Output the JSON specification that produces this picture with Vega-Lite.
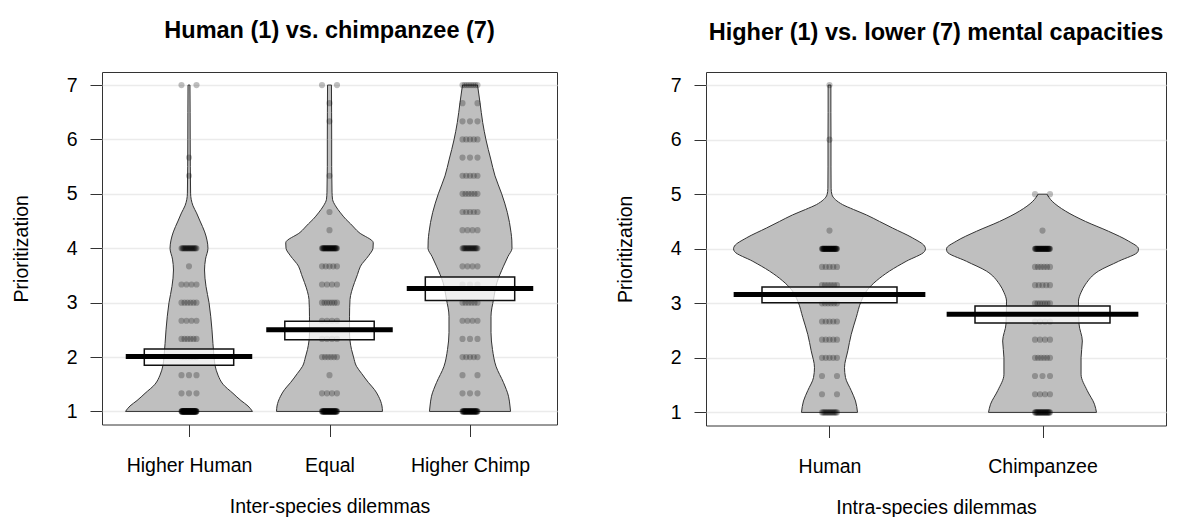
{
  "$schema": "https://vega.github.io/schema/vega-lite/v6.json",
  "padding": {"left": 10, "top": 18, "right": 0, "bottom": 0},
  "spacing": 56,
  "datasets": {
    "sumL": [
      {"g": "HH", "mean": 2.01, "lo": 1.85, "hi": 2.15},
      {"g": "EQ", "mean": 2.5, "lo": 2.32, "hi": 2.66},
      {"g": "HC", "mean": 3.26, "lo": 3.04, "hi": 3.47}
    ],
    "sumR": [
      {"g": "HU", "mean": 3.16, "lo": 3.01, "hi": 3.3},
      {"g": "CH", "mean": 2.8, "lo": 2.64, "hi": 2.95}
    ],
    "violL": [
      {"g":"HH","v":1,"d":0.904},{"g":"HH","v":1.1,"d":0.84},{"g":"HH","v":1.2,"d":0.74},{"g":"HH","v":1.333,"d":0.626},{"g":"HH","v":1.5,"d":0.484},{"g":"HH","v":1.667,"d":0.413},{"g":"HH","v":1.85,"d":0.37},{"g":"HH","v":2,"d":0.356},{"g":"HH","v":2.5,"d":0.327},{"g":"HH","v":3,"d":0.285},{"g":"HH","v":3.3,"d":0.242},{"g":"HH","v":3.6,"d":0.221},{"g":"HH","v":3.8,"d":0.235},{"g":"HH","v":4,"d":0.27},{"g":"HH","v":4.15,"d":0.256},{"g":"HH","v":4.3,"d":0.223},{"g":"HH","v":4.5,"d":0.157},{"g":"HH","v":4.65,"d":0.107},{"g":"HH","v":4.78,"d":0.057},{"g":"HH","v":4.9,"d":0.031},{"g":"HH","v":5,"d":0.023},{"g":"HH","v":5.5,"d":0.0185},{"g":"HH","v":6,"d":0.017},{"g":"HH","v":6.5,"d":0.016},{"g":"HH","v":7,"d":0.014},
      {"g":"EQ","v":1,"d":0.754},{"g":"EQ","v":1.1,"d":0.747},{"g":"EQ","v":1.28,"d":0.697},{"g":"EQ","v":1.4,"d":0.641},{"g":"EQ","v":1.53,"d":0.555},{"g":"EQ","v":1.7,"d":0.456},{"g":"EQ","v":1.83,"d":0.384},{"g":"EQ","v":2,"d":0.342},{"g":"EQ","v":2.14,"d":0.313},{"g":"EQ","v":2.45,"d":0.285},{"g":"EQ","v":2.75,"d":0.285},{"g":"EQ","v":3.06,"d":0.292},{"g":"EQ","v":3.2,"d":0.313},{"g":"EQ","v":3.37,"d":0.356},{"g":"EQ","v":3.52,"d":0.399},{"g":"EQ","v":3.67,"d":0.441},{"g":"EQ","v":3.86,"d":0.555},{"g":"EQ","v":4,"d":0.619},{"g":"EQ","v":4.1,"d":0.623},{"g":"EQ","v":4.29,"d":0.42},{"g":"EQ","v":4.45,"d":0.299},{"g":"EQ","v":4.53,"d":0.235},{"g":"EQ","v":4.65,"d":0.157},{"g":"EQ","v":4.78,"d":0.085},{"g":"EQ","v":4.9,"d":0.043},{"g":"EQ","v":5.03,"d":0.036},{"g":"EQ","v":5.5,"d":0.031},{"g":"EQ","v":6,"d":0.031},{"g":"EQ","v":6.5,"d":0.03},{"g":"EQ","v":7,"d":0.028},
      {"g":"HC","v":1,"d":0.577},{"g":"HC","v":1.1,"d":0.569},{"g":"HC","v":1.28,"d":0.548},{"g":"HC","v":1.53,"d":0.477},{"g":"HC","v":1.83,"d":0.37},{"g":"HC","v":2.14,"d":0.32},{"g":"HC","v":2.45,"d":0.299},{"g":"HC","v":2.75,"d":0.299},{"g":"HC","v":3.06,"d":0.335},{"g":"HC","v":3.37,"d":0.384},{"g":"HC","v":3.67,"d":0.477},{"g":"HC","v":3.85,"d":0.541},{"g":"HC","v":4,"d":0.598},{"g":"HC","v":4.15,"d":0.595},{"g":"HC","v":4.29,"d":0.584},{"g":"HC","v":4.66,"d":0.531},{"g":"HC","v":5,"d":0.451},{"g":"HC","v":5.33,"d":0.356},{"g":"HC","v":5.64,"d":0.295},{"g":"HC","v":5.99,"d":0.228},{"g":"HC","v":6.31,"d":0.181},{"g":"HC","v":6.68,"d":0.142},{"g":"HC","v":7,"d":0.107}
    ],
    "violR": [
      {"g":"HU","v":1,"d":0.263},{"g":"HU","v":1.21,"d":0.244},{"g":"HU","v":1.4,"d":0.204},{"g":"HU","v":1.64,"d":0.15},{"g":"HU","v":1.82,"d":0.141},{"g":"HU","v":2.13,"d":0.172},{"g":"HU","v":2.43,"d":0.204},{"g":"HU","v":2.74,"d":0.251},{"g":"HU","v":3.04,"d":0.298},{"g":"HU","v":3.25,"d":0.357},{"g":"HU","v":3.41,"d":0.439},{"g":"HU","v":3.59,"d":0.563},{"g":"HU","v":3.77,"d":0.72},{"g":"HU","v":3.95,"d":0.892},{"g":"HU","v":4,"d":0.901},{"g":"HU","v":4.05,"d":0.892},{"g":"HU","v":4.2,"d":0.779},{"g":"HU","v":4.38,"d":0.592},{"g":"HU","v":4.5,"d":0.47},{"g":"HU","v":4.62,"d":0.347},{"g":"HU","v":4.72,"d":0.225},{"g":"HU","v":4.81,"d":0.122},{"g":"HU","v":4.9,"d":0.056},{"g":"HU","v":4.99,"d":0.023},{"g":"HU","v":5.11,"d":0.015},{"g":"HU","v":5.5,"d":0.014},{"g":"HU","v":6,"d":0.014},{"g":"HU","v":6.5,"d":0.013},{"g":"HU","v":7,"d":0.013},
      {"g":"CH","v":1,"d":0.507},{"g":"CH","v":1.15,"d":0.488},{"g":"CH","v":1.4,"d":0.42},{"g":"CH","v":1.7,"d":0.362},{"g":"CH","v":2,"d":0.362},{"g":"CH","v":2.31,"d":0.374},{"g":"CH","v":2.62,"d":0.343},{"g":"CH","v":3.04,"d":0.338},{"g":"CH","v":3.2,"d":0.362},{"g":"CH","v":3.35,"d":0.404},{"g":"CH","v":3.59,"d":0.526},{"g":"CH","v":3.77,"d":0.714},{"g":"CH","v":3.95,"d":0.897},{"g":"CH","v":4,"d":0.901},{"g":"CH","v":4.14,"d":0.808},{"g":"CH","v":4.32,"d":0.62},{"g":"CH","v":4.5,"d":0.404},{"g":"CH","v":4.69,"d":0.216},{"g":"CH","v":4.87,"d":0.091},{"g":"CH","v":5,"d":0.042}
    ],
    "ptsL": [
      {"g":"HH","v":1},{"g":"HH","v":1},{"g":"HH","v":1},{"g":"HH","v":1},{"g":"HH","v":1},{"g":"HH","v":1},{"g":"HH","v":1},{"g":"HH","v":1},{"g":"HH","v":1},{"g":"HH","v":1},
      {"g":"HH","v":1},{"g":"HH","v":1},{"g":"HH","v":1},{"g":"HH","v":1},{"g":"HH","v":1},{"g":"HH","v":1},{"g":"HH","v":1},{"g":"HH","v":1},{"g":"HH","v":1},{"g":"HH","v":1},
      {"g":"HH","v":1},{"g":"HH","v":1},{"g":"HH","v":1},{"g":"HH","v":1},{"g":"HH","v":1},{"g":"HH","v":1},{"g":"HH","v":1},{"g":"HH","v":1},{"g":"HH","v":1},{"g":"HH","v":1},
      {"g":"HH","v":1},{"g":"HH","v":1},{"g":"HH","v":1},{"g":"HH","v":1},{"g":"HH","v":1},{"g":"HH","v":1},{"g":"HH","v":1},{"g":"HH","v":1},{"g":"HH","v":1},{"g":"HH","v":1},
      {"g":"HH","v":1},{"g":"HH","v":1},{"g":"HH","v":1},{"g":"HH","v":1},{"g":"HH","v":1},{"g":"HH","v":1},{"g":"HH","v":1},{"g":"HH","v":1},{"g":"HH","v":1},{"g":"HH","v":1},
      {"g":"HH","v":1},{"g":"HH","v":1},{"g":"HH","v":1},{"g":"HH","v":1},{"g":"HH","v":1},{"g":"HH","v":1},{"g":"HH","v":1},{"g":"HH","v":1},{"g":"HH","v":1},{"g":"HH","v":1},
      {"g":"HH","v":1},{"g":"HH","v":1},{"g":"HH","v":1},{"g":"HH","v":1},{"g":"HH","v":1},
      {"g":"HH","v":1.333},{"g":"HH","v":1.333},{"g":"HH","v":1.333},
      {"g":"HH","v":1.667},{"g":"HH","v":1.667},{"g":"HH","v":1.667},
      {"g":"HH","v":2},{"g":"HH","v":2},{"g":"HH","v":2},{"g":"HH","v":2},{"g":"HH","v":2},{"g":"HH","v":2},
      {"g":"HH","v":2.333},{"g":"HH","v":2.333},{"g":"HH","v":2.333},{"g":"HH","v":2.333},{"g":"HH","v":2.333},{"g":"HH","v":2.333},
      {"g":"HH","v":2.667},{"g":"HH","v":2.667},{"g":"HH","v":2.667},{"g":"HH","v":2.667},
      {"g":"HH","v":3},{"g":"HH","v":3},{"g":"HH","v":3},{"g":"HH","v":3},{"g":"HH","v":3},{"g":"HH","v":3},
      {"g":"HH","v":3.333},{"g":"HH","v":3.333},{"g":"HH","v":3.333},{"g":"HH","v":3.333},
      {"g":"HH","v":3.667},
      {"g":"HH","v":4},{"g":"HH","v":4},{"g":"HH","v":4},{"g":"HH","v":4},{"g":"HH","v":4},{"g":"HH","v":4},{"g":"HH","v":4},{"g":"HH","v":4},{"g":"HH","v":4},{"g":"HH","v":4},
      {"g":"HH","v":4},{"g":"HH","v":4},{"g":"HH","v":4},{"g":"HH","v":4},{"g":"HH","v":4},{"g":"HH","v":4},{"g":"HH","v":4},{"g":"HH","v":4},{"g":"HH","v":4},{"g":"HH","v":4},
      {"g":"HH","v":5.333},{"g":"HH","v":5.667},{"g":"HH","v":7},{"g":"HH","v":7},
      {"g":"EQ","v":1},{"g":"EQ","v":1},{"g":"EQ","v":1},{"g":"EQ","v":1},{"g":"EQ","v":1},{"g":"EQ","v":1},{"g":"EQ","v":1},{"g":"EQ","v":1},{"g":"EQ","v":1},{"g":"EQ","v":1},
      {"g":"EQ","v":1},{"g":"EQ","v":1},{"g":"EQ","v":1},{"g":"EQ","v":1},{"g":"EQ","v":1},{"g":"EQ","v":1},{"g":"EQ","v":1},{"g":"EQ","v":1},{"g":"EQ","v":1},{"g":"EQ","v":1},
      {"g":"EQ","v":1},{"g":"EQ","v":1},{"g":"EQ","v":1},{"g":"EQ","v":1},{"g":"EQ","v":1},{"g":"EQ","v":1},{"g":"EQ","v":1},{"g":"EQ","v":1},{"g":"EQ","v":1},{"g":"EQ","v":1},
      {"g":"EQ","v":1},{"g":"EQ","v":1},{"g":"EQ","v":1},{"g":"EQ","v":1},{"g":"EQ","v":1},{"g":"EQ","v":1},{"g":"EQ","v":1},{"g":"EQ","v":1},{"g":"EQ","v":1},{"g":"EQ","v":1},
      {"g":"EQ","v":1},{"g":"EQ","v":1},{"g":"EQ","v":1},{"g":"EQ","v":1},{"g":"EQ","v":1},
      {"g":"EQ","v":1.333},{"g":"EQ","v":1.333},{"g":"EQ","v":1.333},{"g":"EQ","v":1.333},
      {"g":"EQ","v":1.667},
      {"g":"EQ","v":2},{"g":"EQ","v":2},{"g":"EQ","v":2},{"g":"EQ","v":2},{"g":"EQ","v":2},{"g":"EQ","v":2},
      {"g":"EQ","v":2.333},{"g":"EQ","v":2.333},{"g":"EQ","v":2.333},{"g":"EQ","v":2.333},
      {"g":"EQ","v":2.667},{"g":"EQ","v":2.667},{"g":"EQ","v":2.667},{"g":"EQ","v":2.667},
      {"g":"EQ","v":3},{"g":"EQ","v":3},{"g":"EQ","v":3},{"g":"EQ","v":3},{"g":"EQ","v":3},{"g":"EQ","v":3},{"g":"EQ","v":3},
      {"g":"EQ","v":3.333},{"g":"EQ","v":3.333},{"g":"EQ","v":3.333},{"g":"EQ","v":3.333},
      {"g":"EQ","v":3.667},{"g":"EQ","v":3.667},{"g":"EQ","v":3.667},{"g":"EQ","v":3.667},{"g":"EQ","v":3.667},
      {"g":"EQ","v":4},{"g":"EQ","v":4},{"g":"EQ","v":4},{"g":"EQ","v":4},{"g":"EQ","v":4},{"g":"EQ","v":4},{"g":"EQ","v":4},{"g":"EQ","v":4},{"g":"EQ","v":4},{"g":"EQ","v":4},
      {"g":"EQ","v":4},{"g":"EQ","v":4},{"g":"EQ","v":4},{"g":"EQ","v":4},{"g":"EQ","v":4},{"g":"EQ","v":4},{"g":"EQ","v":4},{"g":"EQ","v":4},{"g":"EQ","v":4},{"g":"EQ","v":4},
      {"g":"EQ","v":4},{"g":"EQ","v":4},{"g":"EQ","v":4},{"g":"EQ","v":4},{"g":"EQ","v":4},{"g":"EQ","v":4},{"g":"EQ","v":4},{"g":"EQ","v":4},{"g":"EQ","v":4},{"g":"EQ","v":4},
      {"g":"EQ","v":4.333},{"g":"EQ","v":4.667},{"g":"EQ","v":5.333},{"g":"EQ","v":6.333},{"g":"EQ","v":6.667},{"g":"EQ","v":7},{"g":"EQ","v":7},
      {"g":"HC","v":1},{"g":"HC","v":1},{"g":"HC","v":1},{"g":"HC","v":1},{"g":"HC","v":1},{"g":"HC","v":1},{"g":"HC","v":1},{"g":"HC","v":1},{"g":"HC","v":1},{"g":"HC","v":1},
      {"g":"HC","v":1},{"g":"HC","v":1},{"g":"HC","v":1},{"g":"HC","v":1},{"g":"HC","v":1},{"g":"HC","v":1},{"g":"HC","v":1},{"g":"HC","v":1},{"g":"HC","v":1},{"g":"HC","v":1},
      {"g":"HC","v":1},{"g":"HC","v":1},{"g":"HC","v":1},{"g":"HC","v":1},{"g":"HC","v":1},{"g":"HC","v":1},{"g":"HC","v":1},{"g":"HC","v":1},{"g":"HC","v":1},{"g":"HC","v":1},
      {"g":"HC","v":1},{"g":"HC","v":1},{"g":"HC","v":1},{"g":"HC","v":1},{"g":"HC","v":1},{"g":"HC","v":1},{"g":"HC","v":1},{"g":"HC","v":1},{"g":"HC","v":1},{"g":"HC","v":1},
      {"g":"HC","v":1.333},{"g":"HC","v":1.333},{"g":"HC","v":1.333},
      {"g":"HC","v":1.667},{"g":"HC","v":1.667},
      {"g":"HC","v":2},{"g":"HC","v":2},{"g":"HC","v":2},{"g":"HC","v":2},{"g":"HC","v":2},
      {"g":"HC","v":2.333},{"g":"HC","v":2.333},{"g":"HC","v":2.333},
      {"g":"HC","v":2.667},{"g":"HC","v":2.667},{"g":"HC","v":2.667},{"g":"HC","v":2.667},
      {"g":"HC","v":3},{"g":"HC","v":3},{"g":"HC","v":3},{"g":"HC","v":3},{"g":"HC","v":3},{"g":"HC","v":3},
      {"g":"HC","v":3.333},{"g":"HC","v":3.333},{"g":"HC","v":3.333},
      {"g":"HC","v":3.667},{"g":"HC","v":3.667},{"g":"HC","v":3.667},{"g":"HC","v":3.667},
      {"g":"HC","v":4},{"g":"HC","v":4},{"g":"HC","v":4},{"g":"HC","v":4},{"g":"HC","v":4},{"g":"HC","v":4},{"g":"HC","v":4},{"g":"HC","v":4},{"g":"HC","v":4},{"g":"HC","v":4},
      {"g":"HC","v":4},{"g":"HC","v":4},{"g":"HC","v":4},{"g":"HC","v":4},{"g":"HC","v":4},{"g":"HC","v":4},{"g":"HC","v":4},{"g":"HC","v":4},{"g":"HC","v":4},{"g":"HC","v":4},
      {"g":"HC","v":4.333},{"g":"HC","v":4.333},{"g":"HC","v":4.333},{"g":"HC","v":4.333},
      {"g":"HC","v":4.667},{"g":"HC","v":4.667},{"g":"HC","v":4.667},{"g":"HC","v":4.667},{"g":"HC","v":4.667},
      {"g":"HC","v":5},{"g":"HC","v":5},{"g":"HC","v":5},{"g":"HC","v":5},{"g":"HC","v":5},{"g":"HC","v":5},
      {"g":"HC","v":5.333},{"g":"HC","v":5.333},{"g":"HC","v":5.333},{"g":"HC","v":5.333},{"g":"HC","v":5.333},
      {"g":"HC","v":5.667},{"g":"HC","v":5.667},{"g":"HC","v":5.667},
      {"g":"HC","v":6},{"g":"HC","v":6},{"g":"HC","v":6},{"g":"HC","v":6},{"g":"HC","v":6},
      {"g":"HC","v":6.333},{"g":"HC","v":6.333},{"g":"HC","v":6.333},
      {"g":"HC","v":6.667},{"g":"HC","v":6.667},
      {"g":"HC","v":7},{"g":"HC","v":7},{"g":"HC","v":7},{"g":"HC","v":7},{"g":"HC","v":7},{"g":"HC","v":7},{"g":"HC","v":7},{"g":"HC","v":7}
    ],
    "ptsR": [
      {"g":"HU","v":1},{"g":"HU","v":1},{"g":"HU","v":1},{"g":"HU","v":1},{"g":"HU","v":1},{"g":"HU","v":1},{"g":"HU","v":1},{"g":"HU","v":1},{"g":"HU","v":1},{"g":"HU","v":1},
      {"g":"HU","v":1},{"g":"HU","v":1},{"g":"HU","v":1},{"g":"HU","v":1},{"g":"HU","v":1},
      {"g":"HU","v":1.333},{"g":"HU","v":1.333},
      {"g":"HU","v":1.667},{"g":"HU","v":1.667},
      {"g":"HU","v":2},{"g":"HU","v":2},{"g":"HU","v":2},{"g":"HU","v":2},{"g":"HU","v":2},
      {"g":"HU","v":2.333},{"g":"HU","v":2.333},{"g":"HU","v":2.333},{"g":"HU","v":2.333},{"g":"HU","v":2.333},
      {"g":"HU","v":2.667},{"g":"HU","v":2.667},{"g":"HU","v":2.667},{"g":"HU","v":2.667},{"g":"HU","v":2.667},
      {"g":"HU","v":3},{"g":"HU","v":3},{"g":"HU","v":3},{"g":"HU","v":3},{"g":"HU","v":3},{"g":"HU","v":3},
      {"g":"HU","v":3.333},{"g":"HU","v":3.333},{"g":"HU","v":3.333},{"g":"HU","v":3.333},{"g":"HU","v":3.333},{"g":"HU","v":3.333},
      {"g":"HU","v":3.667},{"g":"HU","v":3.667},{"g":"HU","v":3.667},{"g":"HU","v":3.667},{"g":"HU","v":3.667},
      {"g":"HU","v":4},{"g":"HU","v":4},{"g":"HU","v":4},{"g":"HU","v":4},{"g":"HU","v":4},{"g":"HU","v":4},{"g":"HU","v":4},{"g":"HU","v":4},{"g":"HU","v":4},{"g":"HU","v":4},
      {"g":"HU","v":4},{"g":"HU","v":4},{"g":"HU","v":4},{"g":"HU","v":4},{"g":"HU","v":4},{"g":"HU","v":4},{"g":"HU","v":4},{"g":"HU","v":4},{"g":"HU","v":4},{"g":"HU","v":4},
      {"g":"HU","v":4},{"g":"HU","v":4},{"g":"HU","v":4},{"g":"HU","v":4},{"g":"HU","v":4},{"g":"HU","v":4},{"g":"HU","v":4},{"g":"HU","v":4},{"g":"HU","v":4},{"g":"HU","v":4},
      {"g":"HU","v":4},{"g":"HU","v":4},{"g":"HU","v":4},{"g":"HU","v":4},{"g":"HU","v":4},{"g":"HU","v":4},{"g":"HU","v":4},{"g":"HU","v":4},{"g":"HU","v":4},{"g":"HU","v":4},
      {"g":"HU","v":4.333},{"g":"HU","v":6},{"g":"HU","v":7},
      {"g":"CH","v":1},{"g":"CH","v":1},{"g":"CH","v":1},{"g":"CH","v":1},{"g":"CH","v":1},{"g":"CH","v":1},{"g":"CH","v":1},{"g":"CH","v":1},{"g":"CH","v":1},{"g":"CH","v":1},
      {"g":"CH","v":1},{"g":"CH","v":1},{"g":"CH","v":1},{"g":"CH","v":1},{"g":"CH","v":1},{"g":"CH","v":1},{"g":"CH","v":1},{"g":"CH","v":1},{"g":"CH","v":1},{"g":"CH","v":1},
      {"g":"CH","v":1},{"g":"CH","v":1},{"g":"CH","v":1},{"g":"CH","v":1},{"g":"CH","v":1},
      {"g":"CH","v":1.333},{"g":"CH","v":1.333},{"g":"CH","v":1.333},{"g":"CH","v":1.333},
      {"g":"CH","v":1.667},{"g":"CH","v":1.667},{"g":"CH","v":1.667},
      {"g":"CH","v":2},{"g":"CH","v":2},{"g":"CH","v":2},{"g":"CH","v":2},{"g":"CH","v":2},{"g":"CH","v":2},
      {"g":"CH","v":2.333},{"g":"CH","v":2.333},{"g":"CH","v":2.333},{"g":"CH","v":2.333},
      {"g":"CH","v":2.667},{"g":"CH","v":2.667},{"g":"CH","v":2.667},{"g":"CH","v":2.667},
      {"g":"CH","v":3},{"g":"CH","v":3},{"g":"CH","v":3},{"g":"CH","v":3},{"g":"CH","v":3},{"g":"CH","v":3},{"g":"CH","v":3},
      {"g":"CH","v":3.333},{"g":"CH","v":3.333},{"g":"CH","v":3.333},{"g":"CH","v":3.333},{"g":"CH","v":3.333},
      {"g":"CH","v":3.667},{"g":"CH","v":3.667},{"g":"CH","v":3.667},{"g":"CH","v":3.667},{"g":"CH","v":3.667},{"g":"CH","v":3.667},
      {"g":"CH","v":4},{"g":"CH","v":4},{"g":"CH","v":4},{"g":"CH","v":4},{"g":"CH","v":4},{"g":"CH","v":4},{"g":"CH","v":4},{"g":"CH","v":4},{"g":"CH","v":4},{"g":"CH","v":4},
      {"g":"CH","v":4},{"g":"CH","v":4},{"g":"CH","v":4},{"g":"CH","v":4},{"g":"CH","v":4},{"g":"CH","v":4},{"g":"CH","v":4},{"g":"CH","v":4},{"g":"CH","v":4},{"g":"CH","v":4},
      {"g":"CH","v":4},{"g":"CH","v":4},{"g":"CH","v":4},{"g":"CH","v":4},{"g":"CH","v":4},{"g":"CH","v":4},{"g":"CH","v":4},{"g":"CH","v":4},{"g":"CH","v":4},{"g":"CH","v":4},
      {"g":"CH","v":4},{"g":"CH","v":4},{"g":"CH","v":4},{"g":"CH","v":4},{"g":"CH","v":4},
      {"g":"CH","v":4.333},{"g":"CH","v":5},{"g":"CH","v":5}
    ]
  },
  "hconcat": [
    {
      "title": {"text": "Human (1) vs. chimpanzee (7)", "offset": 29.5},
      "width": 455,
      "height": 352.5,
      "resolve": {"scale": {"x": "independent"}},
      "layer": [
        {
          "data": {"name": "violL"},
          "transform": [{"filter": "datum.g == 'HH'"}],
          "mark": {"type": "area", "orient": "horizontal", "interpolate": "monotone", "fill": "#bfbfbf", "stroke": "#333", "strokeWidth": 1},
          "encoding": {
            "y": {"field": "v", "type": "quantitative", "scale": {"domain": [0.76, 7.24], "nice": false, "zero": false}, "axis": {"title": "Prioritization", "values": [1, 2, 3, 4, 5, 6, 7]}},
            "x": {"field": "d", "type": "quantitative", "stack": "center", "scale": {"domain": [-0.1672, 3.0712], "nice": false, "zero": false}, "axis": null}
          }
        },
        {
          "data": {"name": "violL"},
          "transform": [{"filter": "datum.g == 'EQ'"}],
          "mark": {"type": "area", "orient": "horizontal", "interpolate": "monotone", "fill": "#bfbfbf", "stroke": "#333", "strokeWidth": 1},
          "encoding": {
            "y": {"field": "v", "type": "quantitative", "scale": {"domain": [0.76, 7.24], "nice": false, "zero": false}},
            "x": {"field": "d", "type": "quantitative", "stack": "center", "scale": {"domain": [-1.2422, 1.9962], "nice": false, "zero": false}, "axis": null}
          }
        },
        {
          "data": {"name": "violL"},
          "transform": [{"filter": "datum.g == 'HC'"}],
          "mark": {"type": "area", "orient": "horizontal", "interpolate": "monotone", "fill": "#bfbfbf", "stroke": "#333", "strokeWidth": 1},
          "encoding": {
            "y": {"field": "v", "type": "quantitative", "scale": {"domain": [0.76, 7.24], "nice": false, "zero": false}},
            "x": {"field": "d", "type": "quantitative", "stack": "center", "scale": {"domain": [-2.3202, 0.9182], "nice": false, "zero": false}, "axis": null}
          }
        },
        {
          "mark": {"type": "rule", "color": "#333", "strokeWidth": 1},
          "encoding": {"y": {"datum": 4, "type": "quantitative", "scale": {"domain": [0.76, 7.24], "nice": false, "zero": false}}}
        },
        {
          "layer": [
            {
              "data": {"name": "ptsL"},
              "transform": [
                {"joinaggregate": [{"op": "count", "as": "n"}], "groupby": ["g", "v"]},
                {"filter": "datum.n > 1"},
                {"window": [{"op": "row_number", "as": "k"}], "groupby": ["g", "v"]},
                {"window": [{"op": "percent_rank", "as": "pr"}], "sort": [{"field": "k", "order": "ascending"}], "groupby": ["g", "v"]}
              ],
              "mark": {"type": "circle", "color": "#000", "opacity": 0.25, "size": 38},
              "encoding": {
                "x": {"field": "g", "type": "nominal", "scale": {"type": "point", "domain": ["HH", "EQ", "HC"], "padding": 0.6192},
                      "axis": {"title": "Inter-species dilemmas", "labelExpr": "datum.value == 'HH' ? 'Higher Human' : datum.value == 'EQ' ? 'Equal' : 'Higher Chimp'"}},
                "xOffset": {"field": "pr", "type": "quantitative", "scale": {"domain": [0, 1], "range": [-7.5, 7.5]}},
                "y": {"field": "v", "type": "quantitative", "scale": {"domain": [0.76, 7.24], "nice": false, "zero": false}}
              }
            },
            {
              "data": {"name": "ptsL"},
              "transform": [
                {"joinaggregate": [{"op": "count", "as": "n"}], "groupby": ["g", "v"]},
                {"filter": "datum.n == 1"}
              ],
              "mark": {"type": "circle", "color": "#000", "opacity": 0.25, "size": 38},
              "encoding": {
                "x": {"field": "g", "type": "nominal", "scale": {"type": "point", "domain": ["HH", "EQ", "HC"], "padding": 0.6192}},
                "y": {"field": "v", "type": "quantitative", "scale": {"domain": [0.76, 7.24], "nice": false, "zero": false}}
              }
            },
            {
              "data": {"name": "sumL"},
              "mark": {"type": "bar", "width": 89.4, "fill": "#ffffff", "fillOpacity": 0.75, "stroke": "#111", "strokeWidth": 1.5},
              "encoding": {
                "x": {"field": "g", "type": "nominal", "scale": {"type": "point", "domain": ["HH", "EQ", "HC"], "padding": 0.6192}},
                "y": {"field": "lo", "type": "quantitative", "scale": {"domain": [0.76, 7.24], "nice": false, "zero": false}},
                "y2": {"field": "hi"}
              }
            },
            {
              "data": {"name": "sumL"},
              "mark": {"type": "tick", "orient": "horizontal", "size": 126.5, "thickness": 5, "color": "#000", "opacity": 1},
              "encoding": {
                "x": {"field": "g", "type": "nominal", "scale": {"type": "point", "domain": ["HH", "EQ", "HC"], "padding": 0.6192}},
                "y": {"field": "mean", "type": "quantitative", "scale": {"domain": [0.76, 7.24], "nice": false, "zero": false}}
              }
            }
          ]
        }
      ]
    },
    {
      "title": {"text": "Higher (1) vs. lower (7) mental capacities", "offset": 27.5},
      "width": 460,
      "height": 353.5,
      "resolve": {"scale": {"x": "independent"}},
      "layer": [
        {
          "data": {"name": "violR"},
          "transform": [{"filter": "datum.g == 'HU'"}],
          "mark": {"type": "area", "orient": "horizontal", "interpolate": "monotone", "fill": "#bfbfbf", "stroke": "#333", "strokeWidth": 1},
          "encoding": {
            "y": {"field": "v", "type": "quantitative", "scale": {"domain": [0.76, 7.24], "nice": false, "zero": false}, "axis": {"title": "Prioritization", "values": [1, 2, 3, 4, 5, 6, 7]}},
            "x": {"field": "d", "type": "quantitative", "stack": "center", "scale": {"domain": [-0.1293, 2.0303], "nice": false, "zero": false}, "axis": null}
          }
        },
        {
          "data": {"name": "violR"},
          "transform": [{"filter": "datum.g == 'CH'"}],
          "mark": {"type": "area", "orient": "horizontal", "interpolate": "monotone", "fill": "#bfbfbf", "stroke": "#333", "strokeWidth": 1},
          "encoding": {
            "y": {"field": "v", "type": "quantitative", "scale": {"domain": [0.76, 7.24], "nice": false, "zero": false}},
            "x": {"field": "d", "type": "quantitative", "stack": "center", "scale": {"domain": [-1.1293, 1.0303], "nice": false, "zero": false}, "axis": null}
          }
        },
        {
          "mark": {"type": "rule", "color": "#333", "strokeWidth": 1},
          "encoding": {"y": {"datum": 4, "type": "quantitative", "scale": {"domain": [0.76, 7.24], "nice": false, "zero": false}}}
        },
        {
          "layer": [
            {
              "data": {"name": "ptsR"},
              "transform": [
                {"joinaggregate": [{"op": "count", "as": "n"}], "groupby": ["g", "v"]},
                {"filter": "datum.n > 1"},
                {"window": [{"op": "row_number", "as": "k"}], "groupby": ["g", "v"]},
                {"window": [{"op": "percent_rank", "as": "pr"}], "sort": [{"field": "k", "order": "ascending"}], "groupby": ["g", "v"]}
              ],
              "mark": {"type": "circle", "color": "#000", "opacity": 0.25, "size": 38},
              "encoding": {
                "x": {"field": "g", "type": "nominal", "scale": {"type": "point", "domain": ["HU", "CH"], "padding": 0.5798},
                      "axis": {"title": "Intra-species dilemmas", "labelExpr": "datum.value == 'HU' ? 'Human' : 'Chimpanzee'"}},
                "xOffset": {"field": "pr", "type": "quantitative", "scale": {"domain": [0, 1], "range": [-12.5, 12.5]}},
                "y": {"field": "v", "type": "quantitative", "scale": {"domain": [0.76, 7.24], "nice": false, "zero": false}}
              }
            },
            {
              "data": {"name": "ptsR"},
              "transform": [
                {"joinaggregate": [{"op": "count", "as": "n"}], "groupby": ["g", "v"]},
                {"filter": "datum.n == 1"}
              ],
              "mark": {"type": "circle", "color": "#000", "opacity": 0.25, "size": 38},
              "encoding": {
                "x": {"field": "g", "type": "nominal", "scale": {"type": "point", "domain": ["HU", "CH"], "padding": 0.5798}},
                "y": {"field": "v", "type": "quantitative", "scale": {"domain": [0.76, 7.24], "nice": false, "zero": false}}
              }
            },
            {
              "data": {"name": "sumR"},
              "mark": {"type": "bar", "width": 135, "fill": "#ffffff", "fillOpacity": 0.75, "stroke": "#111", "strokeWidth": 1.5},
              "encoding": {
                "x": {"field": "g", "type": "nominal", "scale": {"type": "point", "domain": ["HU", "CH"], "padding": 0.5798}},
                "y": {"field": "lo", "type": "quantitative", "scale": {"domain": [0.76, 7.24], "nice": false, "zero": false}},
                "y2": {"field": "hi"}
              }
            },
            {
              "data": {"name": "sumR"},
              "mark": {"type": "tick", "orient": "horizontal", "size": 191.7, "thickness": 5, "color": "#000", "opacity": 1},
              "encoding": {
                "x": {"field": "g", "type": "nominal", "scale": {"type": "point", "domain": ["HU", "CH"], "padding": 0.5798}},
                "y": {"field": "mean", "type": "quantitative", "scale": {"domain": [0.76, 7.24], "nice": false, "zero": false}}
              }
            }
          ]
        }
      ]
    }
  ],
  "config": {
    "font": "Liberation Sans",
    "view": {"stroke": "#333", "strokeWidth": 1},
    "axis": {
      "labelFont": "Liberation Sans", "labelFontSize": 19.5, "labelColor": "#000",
      "titleFont": "Liberation Sans", "titleFontSize": 19.5, "titleFontWeight": "normal", "titleColor": "#000",
      "tickColor": "#333", "tickSize": 12, "tickWidth": 1, "domain": false, "grid": false
    },
    "axisY": {"grid": true, "gridColor": "#ebebeb", "gridWidth": 1.5, "labelPadding": 13, "titlePadding": 35},
    "axisX": {"labelPadding": 20, "titlePadding": 22, "labelAngle": 0},
    "title": {"font": "Liberation Sans", "fontSize": 23.5, "fontWeight": "bold", "color": "#000", "frame": "group", "anchor": "middle"}
  }
}
